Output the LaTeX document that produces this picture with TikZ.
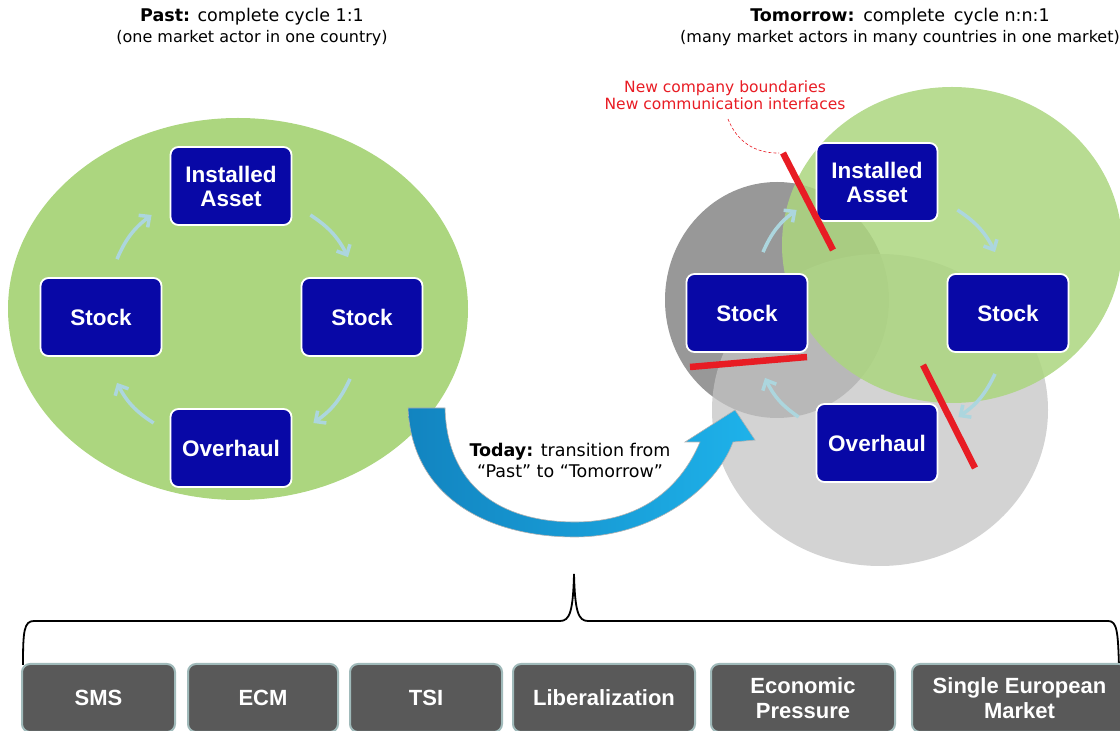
\documentclass[tikz,border=0pt]{standalone}
\usepackage{fontspec}
\setmainfont{DejaVu Sans}
\newfontfamily\boxfont{Liberation Sans}
\usetikzlibrary{
    positioning, % relative placement of the factor boxes
    arrows.meta  % barb tips of the cycle arrows
}
\definecolor{leafgreen}{RGB}{172,214,127}
\definecolor{boxblue}{RGB}{8,8,166}
\definecolor{cyclearrow}{RGB}{172,214,222}
\definecolor{darkdisc}{RGB}{152,152,152}
\definecolor{lightdisc}{RGB}{196,196,196}
\definecolor{factorgray}{RGB}{89,89,89}
\definecolor{factoredge}{RGB}{160,186,186}
\definecolor{todaydark}{RGB}{18,132,192}
\definecolor{todaylight}{RGB}{30,178,234}
\definecolor{notered}{RGB}{232,28,36}

\begin{document}
\begin{tikzpicture}[x=1pt, y=1pt]

    % --- Styles ---
    \tikzset{
        cycle_box/.style={draw=white, line width=1.8pt, fill=boxblue, rounded corners=8pt,
            minimum width=121pt, minimum height=78pt, text=white, align=center, inner sep=2pt,
            font=\boxfont\bfseries\fontsize{22.5}{24}\selectfont},
        factor_box/.style={draw=factoredge, line width=2pt, fill=factorgray, rounded corners=8pt,
            minimum height=68pt, text=white, align=center, inner sep=2pt,
            font=\boxfont\bfseries\fontsize{22}{25}\selectfont},
        cycle_arrow/.style={-{Straight Barb[length=8pt, width=15pt]}, line width=3.5pt,
            cyclearrow, bend left=15},
        cut_line/.style={notered, line width=6.5pt},
        title_text/.style={align=center, font=\fontsize{16}{21}\selectfont},
        big_text/.style={font=\fontsize{17.5}{21}\selectfont},
        note_text/.style={align=center, text=notered, font=\fontsize{15.5}{17}\selectfont}
    }

    \useasboundingbox (0,0) rectangle (1120,731);
    \clip (0,0) rectangle (1120,731);

    % --- Titles ---
    \node[title_text] (past_title) at (252,704)
        {{\fontsize{17.5}{21}\selectfont\textbf{Past:} complete cycle 1:1}\\(one market actor in one country)};
    \node[title_text] (tomorrow_title) at (900,704)
        {{\fontsize{17.5}{21}\selectfont\textbf{Tomorrow:}\enspace complete\enspace cycle n:n:1}\\(many market actors in many countries in one market)};

    % --- Past: one cycle ---
    \fill[leafgreen] (238,422) ellipse [x radius=230pt, y radius=191pt];

    \node[cycle_box] (past_asset) at (231,545) {Installed\\Asset};
    \node[cycle_box] (past_stock_l) at (101,414) {Stock};
    \node[cycle_box] (past_stock_r) at (362,414) {Stock};
    \node[cycle_box] (past_overhaul) at (231,283) {Overhaul};

    \draw[cycle_arrow] ([shift={(16,18)}]past_stock_l.north) to ([shift={(-18,-29)}]past_asset.west);
    \draw[cycle_arrow] ([shift={(18,-29)}]past_asset.east) to ([shift={(-14,20)}]past_stock_r.north);
    \draw[cycle_arrow] ([shift={(-12,-22)}]past_stock_r.south) to ([shift={(21,25)}]past_overhaul.east);
    \draw[cycle_arrow] ([shift={(-16,25)}]past_overhaul.west) to ([shift={(16,-26)}]past_stock_l.south);

    % --- Tomorrow: overlapping actors ---
    \fill[darkdisc] (777,431) ellipse [x radius=112pt, y radius=118pt];
    \fill[lightdisc, fill opacity=0.75] (880,321) ellipse [x radius=168pt, y radius=156pt];
    \fill[leafgreen, fill opacity=0.85] (952,486) ellipse [x radius=170pt, y radius=158pt];

    \node[cycle_box] (tmrw_asset) at (877,549) {Installed\\Asset};
    \node[cycle_box] (tmrw_stock_l) at (747,418) {Stock};
    \node[cycle_box] (tmrw_stock_r) at (1008,418) {Stock};
    \node[cycle_box] (tmrw_overhaul) at (877,288) {Overhaul};

    \draw[cycle_arrow] ([shift={(16,21)}]tmrw_stock_l.north) to ([shift={(-19,-28)}]tmrw_asset.west);
    \draw[cycle_arrow] ([shift={(19,-28)}]tmrw_asset.east) to ([shift={(-13,21)}]tmrw_stock_r.north);
    \draw[cycle_arrow] ([shift={(-13,-21)}]tmrw_stock_r.south) to ([shift={(20,26)}]tmrw_overhaul.east);
    \draw[cycle_arrow] ([shift={(-17,26)}]tmrw_overhaul.west) to ([shift={(18,-25)}]tmrw_stock_l.south);

    % company boundaries
    \coordinate (cut_top) at (783,578);
    \draw[cut_line] (cut_top) -- (833,481);
    \draw[cut_line] (690,364) -- (807,374);
    \draw[cut_line] (923,366) -- (975,263);

    \node[note_text] (boundary_note) at (725,636)
        {New company boundaries\\New communication interfaces};
    \draw[notered, densely dashed, line width=0.6pt]
        ([shift={(3,-6)}]boundary_note.south) to[bend right=35] ([xshift=-4pt]cut_top);

    % --- Today: transition arrow ---
    \shadedraw[left color=todaydark, right color=todaylight, draw=gray!60, line width=0.6pt]
        (408,323) .. controls (412,232) and (490,194) .. (575,194)
        .. controls (650,194) and (715,240) .. (733,289)
        -- (755,291) -- (735,321) -- (685,289) -- (700,289)
        .. controls (680,242) and (640,209) .. (575,209)
        .. controls (500,209) and (447,245) .. (445,323) -- cycle;

    \node[title_text, big_text] (today_text) at (570,271)
        {\textbf{Today:} transition from\\“Past” to “Tomorrow”};

    % --- Brace over the drivers ---
    \draw[line width=1.8pt]
        (23,66) .. controls (23,100) and (24,110) .. (34,110) -- (560,110)
        .. controls (570,110) and (573,120) .. (574,157)
        .. controls (575,120) and (578,110) .. (588,110) -- (1108,110)
        .. controls (1117,110) and (1118,100) .. (1119,64);

    % --- Drivers ---
    \node[factor_box, minimum width=153pt] (f_sms) at (98.5,33) {SMS};
    \node[factor_box, minimum width=150pt, right=11pt of f_sms] (f_ecm) {ECM};
    \node[factor_box, minimum width=152pt, right=10pt of f_ecm] (f_tsi) {TSI};
    \node[factor_box, minimum width=182pt, right=9pt of f_tsi] (f_lib) {Liberalization};
    \node[factor_box, minimum width=184pt, right=14pt of f_lib] (f_econ) {Economic\\Pressure};
    \node[factor_box, minimum width=215pt, right=15pt of f_econ] (f_sem) {Single European\\Market};

\end{tikzpicture}
\end{document}
